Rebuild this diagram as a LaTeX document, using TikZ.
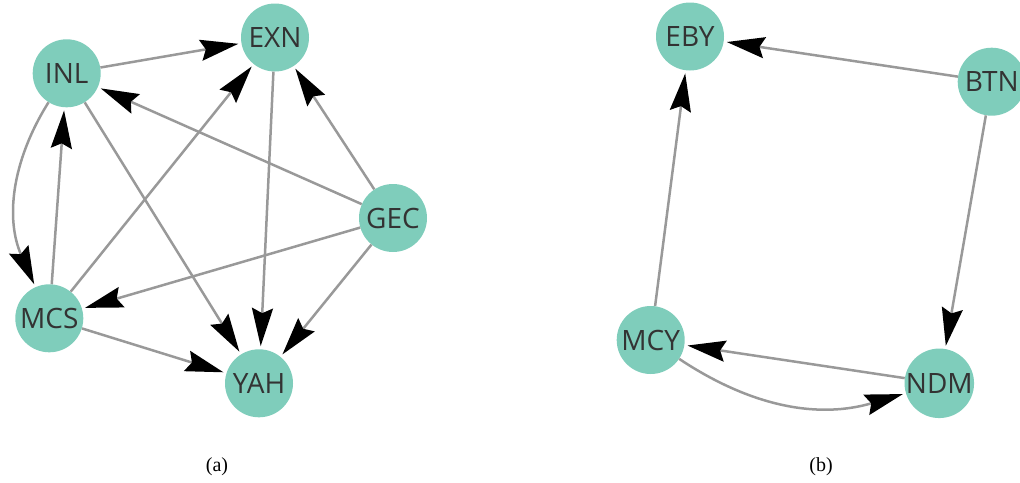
\documentclass[tikz,border=0pt]{standalone}
\usepackage{fontspec}
\setmainfont{Liberation Serif}
\newfontfamily\vertexfont{Open Sans}
\usetikzlibrary{arrows.meta}
\definecolor{vertexfill}{HTML}{7FCDBB}
\definecolor{edgegray}{HTML}{999999}
\definecolor{vertextext}{HTML}{333333}

\begin{document}
\begin{tikzpicture}[x=1pt,y=-1pt,
  vertex/.style={circle, fill=vertexfill, minimum size=68pt, inner sep=0pt,
    font=\vertexfont\fontsize{28}{30}\selectfont, text=vertextext},
  edge/.style={draw=edgegray, line width=2.5pt, shorten >=3pt,
    -{Stealth[length=38pt,width=21pt,inset=5pt,black]}},
  caption/.style={font=\fontsize{20}{24}\selectfont}]

\clip (0,0) rectangle (1020,482);
\useasboundingbox (0,0) rectangle (1020,482);

% ---- graph (a) ----
\node[vertex] (INL) at (66.7,73.3) {INL};
\node[vertex] (EXN) at (275,37.5) {EXN};
\node[vertex] (GEC) at (393,218) {GEC};
\node[vertex] (MCS) at (49.3,318.3) {MCS};
\node[vertex] (YAH) at (259,383.3) {YAH};

\draw[edge] (INL) -- (EXN);
\draw[edge] (GEC) -- (INL);
\draw[edge] (GEC) -- (EXN);
\draw[edge] (GEC) -- (MCS);
\draw[edge] (GEC) -- (YAH);
\draw[edge] (EXN) -- (YAH);
\draw[edge] (INL) -- (YAH);
\draw[edge] (INL) to[bend right=28] (MCS);
\draw[edge] (MCS) -- (INL);
\draw[edge] (MCS) -- (EXN);
\draw[edge] (MCS) -- (YAH);

\node[caption] (capa) at (217,467) {(a)};

% ---- graph (b) ----
\node[vertex] (EBY) at (690,36.5) {EBY};
\node[vertex] (BTN) at (991.7,81.7) {BTN};
\node[vertex] (MCY) at (650.7,340) {MCY};
\node[vertex] (NDM) at (939.3,383.3) {NDM};

\draw[edge] (BTN) -- (EBY);
\draw[edge] (MCY) -- (EBY);
\draw[edge] (BTN) -- (NDM);
\draw[edge] (NDM) -- (MCY);
\draw[edge] (MCY) to[bend right=25] (NDM);

\node[caption] (capb) at (821,467) {(b)};
\end{tikzpicture}
\end{document}
